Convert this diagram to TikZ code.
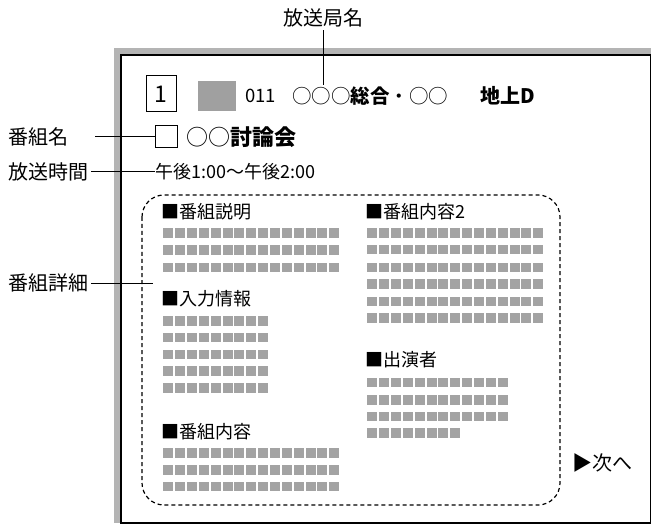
\documentclass[tikz,border=0pt]{standalone}
\usepackage{fontspec}
\setmainfont{Noto Sans CJK JP}
\definecolor{framegray}{HTML}{B4B4B4}
\definecolor{cellgray}{HTML}{A3A3A3}
\definecolor{squaregray}{HTML}{A0A0A0}
\newcommand\mycellrow[4]{\foreach \i in {1,...,#3}{\fill[cellgray] ({#1+(\i-1)*11.85},#2) rectangle ++(10,#4);}}
\begin{document}
\begin{tikzpicture}[x=1pt,y=-1pt,
  txt/.style={inner sep=0pt, anchor=west, font=\fontsize{#1}{#1}\selectfont},
  ctxt/.style={inner sep=0pt, font=\fontsize{#1}{#1}\selectfont},
  leader/.style={line width=1pt},
  head/.style={txt=18}]
\useasboundingbox (0,0) rectangle (652,526);
% frame
\fill[framegray] (114,48) rectangle (651,523);
\draw[fill=white, line width=1.3pt] (121,55) rectangle (650.6,523);
% header row
\node[draw, line width=1pt, minimum width=30pt, minimum height=36pt, inner sep=0pt, font=\fontsize{23}{23}\selectfont] (chbox) at (161,94) {1};
\node[fill=squaregray, minimum width=38pt, minimum height=30pt, inner sep=0pt] (logo) at (217,96) {};
\node[txt=18.5] (num) at (245,96) {011};
\node[txt=19.5] (stn) at (292,96) {○○○\textbf{総合}・○○};
\node[txt=20] (dig) at (480,96) {\textbf{地上D}};
% row 2
\node[draw, line width=1pt, minimum width=22pt, minimum height=22pt, inner sep=0pt] (chk) at (166,137) {};
\node[txt=22] (title) at (186,137) {○○\textbf{討論会}};
% row 3
\node[txt=18] (time) at (155,172) {午後1:00～午後2:00};
% outside labels
\node[ctxt=20] (lstn) at (323,18) {放送局名};
\node[txt=20] (lname) at (8,137) {番組名};
\node[txt=20] (ltime) at (8,172) {放送時間};
\node[txt=20] (ldet) at (8,283) {番組詳細};
\coordinate (pstn) at (323,85);
\coordinate (pname) at (95,137);
\coordinate (pdet) at (153,283);
\draw[leader] ([yshift=-3pt]lstn.south) -- (pstn);
\draw[leader] (pname) -- (chk.west);
\draw[leader] ([xshift=3pt]ltime.east) -- (time.west);
\draw[leader] ([xshift=3pt]ldet.east) -- (pdet);
% details box
\draw[line width=1.2pt, dash pattern=on 4pt off 3pt, rounded corners=22pt] (142,195) rectangle (560,505);
% left column
\node[head] (h1) at (161,212) {■番組説明};
\mycellrow{163.3}{228.3}{15}{9.5}
\mycellrow{163.3}{245.3}{15}{9.5}
\mycellrow{163.3}{262.7}{15}{9.5}
\node[head] (h2) at (161,299) {■入力情報};
\mycellrow{163.3}{316}{9}{9.5}
\mycellrow{163.3}{332.7}{9}{9.5}
\mycellrow{163.3}{349.5}{9}{9.5}
\mycellrow{163.3}{366.2}{9}{9.5}
\mycellrow{163.3}{383}{9}{9.5}
\node[head] (h3) at (161,432) {■番組内容};
\mycellrow{163.3}{448.3}{15}{9.5}
\mycellrow{163.3}{465}{15}{9.5}
\mycellrow{163.3}{481.7}{15}{9.5}
% right column
\node[head] (h4) at (365,212) {■番組内容2};
\mycellrow{367.3}{228.3}{15}{9.5}
\mycellrow{367.3}{245}{15}{9.5}
\mycellrow{367.3}{262.7}{15}{9.5}
\mycellrow{367.3}{279.3}{15}{9.5}
\mycellrow{367.3}{296.7}{15}{9.5}
\mycellrow{367.3}{313.3}{15}{9.5}
\node[head] (h5) at (365,360) {■出演者};
\mycellrow{367.3}{377.7}{12}{9.5}
\mycellrow{367.3}{395}{12}{9.5}
\mycellrow{367.3}{411.7}{12}{9.5}
\mycellrow{367.3}{428.3}{8}{9.5}
% next
\node[txt=20] (next) at (572,463) {▶次へ};
\end{tikzpicture}
\end{document}
